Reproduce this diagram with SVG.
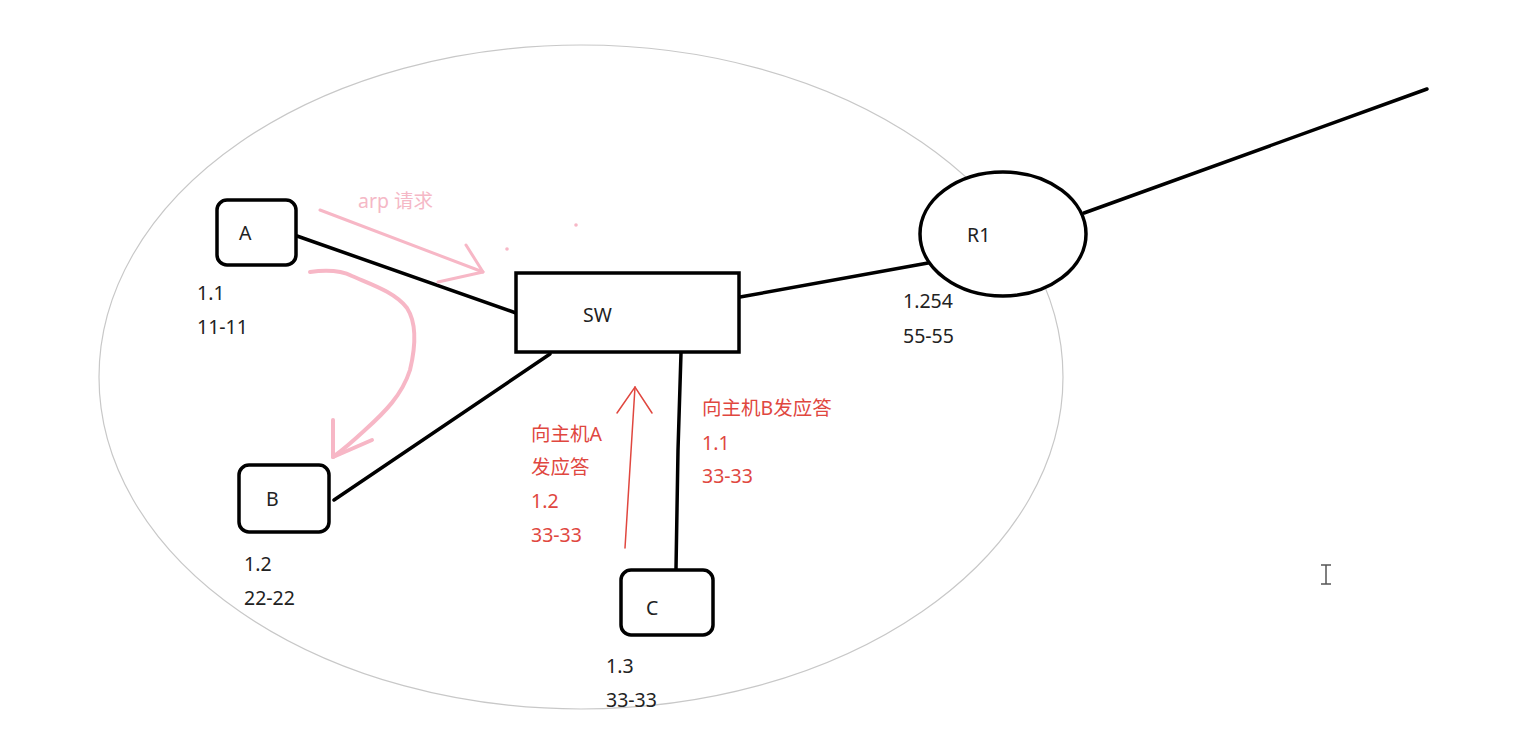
<svg xmlns="http://www.w3.org/2000/svg" width="1519" height="742" viewBox="0 0 1519 742">
<style>
.bg{fill:#fff}
.node{fill:#fff;stroke:#000;stroke-width:3.5}
.link{fill:none;stroke:#000;stroke-width:3.5;stroke-linecap:round}
.lbl{font-family:"Noto Sans","Noto Sans CJK SC",sans-serif;font-size:19.5px;fill:#222}
.red{font-family:"Noto Sans","Noto Sans CJK SC",sans-serif;font-size:19.5px;fill:#e0473f}
.pinktxt{font-family:"Noto Sans","Noto Sans CJK SC",sans-serif;font-size:19.5px;fill:#f5b8c6}
.pink{fill:none;stroke:#f7b7c6;stroke-linecap:round;stroke-linejoin:round}
.redline{fill:none;stroke:#e0473f;stroke-width:1.5;stroke-linecap:round}
</style>
<rect class="bg" x="0" y="0" width="1519" height="742"/>
<ellipse id="lan" cx="581" cy="377" rx="482" ry="332" fill="none" stroke="#c8c8c8" stroke-width="1.2"/>
<g id="connectors">
<line class="link" x1="297" y1="236" x2="516" y2="313"/>
<line class="link" x1="550" y1="354" x2="334" y2="500"/>
<polyline class="link" points="681,353 678,450 676,569"/>
<line class="link" x1="740" y1="297" x2="928" y2="263"/>
<line class="link" x1="1084" y1="213" x2="1427" y2="89"/>
</g>
<g id="node-A">
<rect class="node" x="217" y="200" width="79" height="65" rx="10"/>
<text class="lbl" x="239" y="240">A</text>
<text class="lbl" x="197" y="300">1.1</text>
<text class="lbl" x="197" y="334">11-11</text>
</g>
<g id="node-B">
<rect class="node" x="239" y="465" width="90" height="67" rx="10"/>
<text class="lbl" x="266" y="506">B</text>
<text class="lbl" x="244" y="571">1.2</text>
<text class="lbl" x="244" y="605">22-22</text>
</g>
<g id="node-C">
<rect class="node" x="621" y="570" width="92" height="65" rx="10"/>
<text class="lbl" x="646" y="615">C</text>
<text class="lbl" x="606" y="673">1.3</text>
<text class="lbl" x="606" y="707">33-33</text>
</g>
<g id="node-SW">
<rect class="node" x="516" y="273" width="223" height="79"/>
<text class="lbl" x="583" y="322">SW</text>
</g>
<g id="node-R1">
<ellipse class="node" cx="1003" cy="234" rx="83" ry="62"/>
<text class="lbl" x="967" y="242">R1</text>
<text class="lbl" x="903" y="308">1.254</text>
<text class="lbl" x="903" y="343">55-55</text>
</g>
<g id="arp-request">
<text class="pinktxt" x="358" y="208">arp 请求</text>
<line class="pink" stroke-width="3" x1="320" y1="210" x2="483" y2="272"/>
<polyline class="pink" stroke-width="3" points="466,245 483,272 438,282"/>
<circle cx="507" cy="249" r="1.8" fill="#f7b7c6"/>
<circle cx="576" cy="225" r="1.8" fill="#f7b7c6"/>
<path class="pink" stroke-width="4" d="M310,272 C325,270 340,270 352,276 C370,284 395,292 407,308 C416,322 416,345 410,370 C402,395 385,412 365,430 C352,442 340,452 333,457"/>
<polyline class="pink" stroke-width="4" points="333,420 333,457 372,440"/>
</g>
<g id="reply-to-A">
<line class="redline" x1="625" y1="548" x2="635" y2="387"/>
<polyline class="redline" points="617,413 635,387 652,413"/>
<text class="red" x="531" y="441">向主机A</text>
<text class="red" x="531" y="474">发应答</text>
<text class="red" x="531" y="508">1.2</text>
<text class="red" x="531" y="542">33-33</text>
</g>
<g id="reply-to-B">
<text class="red" x="702" y="415">向主机B发应答</text>
<text class="red" x="702" y="450">1.1</text>
<text class="red" x="702" y="483">33-33</text>
</g>
<g id="cursor" stroke="#555" stroke-width="1.5" fill="none">
<line x1="1326" y1="565" x2="1326" y2="584"/>
<line x1="1321" y1="565" x2="1331" y2="565"/>
<line x1="1321" y1="584" x2="1331" y2="584"/>
</g>
</svg>
